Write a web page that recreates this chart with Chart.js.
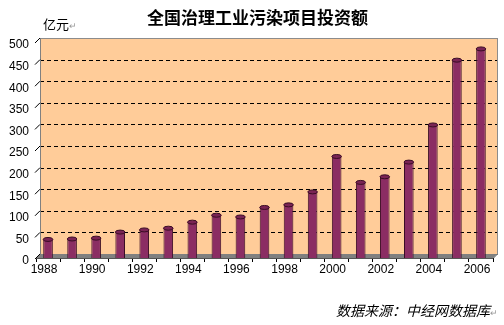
<!DOCTYPE html>
<html>
<head>
<meta charset="utf-8">
<script src="https://cdn.jsdelivr.net/npm/chart.js@4"></script>
<style>
body{margin:0;background:#fff;}
#wrap{position:relative;width:504px;height:325px;}
#grafico{position:absolute;left:0;top:0;}
.lbl{position:absolute;font-family:"Noto Sans CJK SC";color:#000;white-space:nowrap;line-height:1;}
.lbl span{color:#999;font-size:9px;font-style:normal;}
#titulo{left:147px;top:8px;font-size:17px;font-weight:bold;}
#unidade{left:43px;top:17px;font-size:13px;}
#fonte{right:6px;top:303px;font-size:14px;font-style:italic;}
</style>
</head>
<body>
<div id="wrap">
<canvas id="grafico" width="504" height="325"></canvas>
<div class="lbl" id="titulo">全国治理工业污染项目投资额</div>
<div class="lbl" id="unidade">亿元<span>↵</span></div>
<div class="lbl" id="fonte">数据来源：中经网数据库<span>↵</span></div>
</div>
<script>
// dados
const anos = ["1988","1989","1990","1991","1992","1993","1994","1995","1996","1997",
              "1998","1999","2000","2001","2002","2003","2004","2005","2006"]
const investimento = [43, 44, 46, 60, 65, 69, 83, 99, 95, 117,
                      123, 153, 235, 175, 188, 222, 308, 458, 484]
const yMax = 500
const yPasso = 50

// deslocamento do efeito 3D (parede de fundo)
const dx = 4, dy = -4

const fundo3D = {
    id: "fundo3D",
    beforeDatasetsDraw(chart) {
        const ctx = chart.ctx
        const ca = chart.chartArea
        const y = chart.scales.y
        const topo = y.getPixelForValue(yMax) + dy
        const base = y.getPixelForValue(0)
        ctx.save()
        // parede de fundo
        ctx.fillStyle = "#FFCC99"
        ctx.fillRect(ca.left + dx, topo, ca.right - ca.left, base + dy - topo)
        // linhas de grade tracejadas
        ctx.strokeStyle = "#000"
        ctx.lineWidth = 1
        ctx.setLineDash([4, 3])
        for (let v = yPasso; v < yMax; v += yPasso) {
            const py = Math.round(y.getPixelForValue(v) + dy) + 0.5
            ctx.beginPath()
            ctx.moveTo(ca.left + dx, py)
            ctx.lineTo(ca.right + dx, py)
            ctx.stroke()
        }
        ctx.setLineDash([])
        // borda da parede
        ctx.strokeStyle = "#8c8c8c"
        ctx.strokeRect(ca.left + dx + 0.5, Math.round(topo) + 0.5, ca.right - ca.left, Math.round(base + dy - topo))
        // piso cinza
        ctx.fillStyle = "#808080"
        ctx.beginPath()
        ctx.moveTo(ca.left, base)
        ctx.lineTo(ca.right, base)
        ctx.lineTo(ca.right + dx, base + dy)
        ctx.lineTo(ca.left + dx, base + dy)
        ctx.closePath()
        ctx.fill()
        ctx.strokeStyle = "#555"
        ctx.beginPath()
        ctx.moveTo(ca.left, base + 0.5)
        ctx.lineTo(ca.right, base + 0.5)
        ctx.lineTo(ca.right + dx, base + dy + 0.5)
        ctx.stroke()
        // eixo y e marcas diagonais
        ctx.strokeStyle = "#808080"
        ctx.beginPath()
        ctx.moveTo(ca.left + dx + 0.5, topo)
        ctx.lineTo(ca.left + dx + 0.5, base + dy)
        ctx.lineTo(ca.left + 0.5, base)
        ctx.stroke()
        ctx.strokeStyle = "#000"
        for (let v = 0; v <= yMax; v += yPasso) {
            const py = y.getPixelForValue(v)
            ctx.beginPath()
            ctx.moveTo(ca.left - 1, py + 1)
            ctx.lineTo(ca.left + dx, py + dy)
            ctx.stroke()
        }
        ctx.restore()
    },
    afterDatasetsDraw(chart) {
        // tampa eliptica das barras
        const ctx = chart.ctx
        const meta = chart.getDatasetMeta(0)
        ctx.save()
        meta.data.forEach(bar => {
            ctx.beginPath()
            ctx.ellipse(bar.x, bar.y, bar.width / 2, 2, 0, 0, Math.PI * 2)
            ctx.fillStyle = "#7a2454"
            ctx.fill()
            ctx.strokeStyle = "#3a0c24"
            ctx.lineWidth = 1
            ctx.stroke()
        })
        ctx.restore()
    }
}

const grafico = document.getElementById("grafico")
new Chart(grafico, {
    type: "bar",
    data: {
        labels: anos,
        datasets: [{
            label: "投资额",
            data: investimento,
            backgroundColor: "#8B2D63",
            borderColor: "#3a0c24",
            borderWidth: 1,
            barPercentage: 0.8,
            categoryPercentage: 0.5
        }]
    },
    options: {
        responsive: false,
        animation: false,
        devicePixelRatio: 1,
        layout: { padding: { left: 0, right: 11, top: 42, bottom: 47 } },
        plugins: {
            legend: { display: false },
            tooltip: { enabled: false },
            title: { display: false }
        },
        scales: {
            x: {
                grid: { display: true, drawOnChartArea: false, drawTicks: true, tickLength: 4, color: "#000", offset: true },
                border: { display: false },
                ticks: {
                    autoSkip: false,
                    maxRotation: 0,
                    padding: 0,
                    labelOffset: -4,
                    color: "#000",
                    font: { family: "Liberation Sans", size: 12 },
                    callback: (v, i) => i % 2 == 0 ? anos[i] : ""
                },
                afterFit: s => { s.height = 20 }
            },
            y: {
                min: 0,
                max: yMax,
                grid: { display: false, drawTicks: false },
                border: { display: false },
                ticks: {
                    stepSize: yPasso,
                    padding: 7,
                    labelOffset: 3,
                    color: "#000",
                    font: { family: "Liberation Sans", size: 12 }
                },
                afterFit: s => { s.width = 36 }
            }
        }
    },
    plugins: [fundo3D]
})
</script>
</body>
</html>
